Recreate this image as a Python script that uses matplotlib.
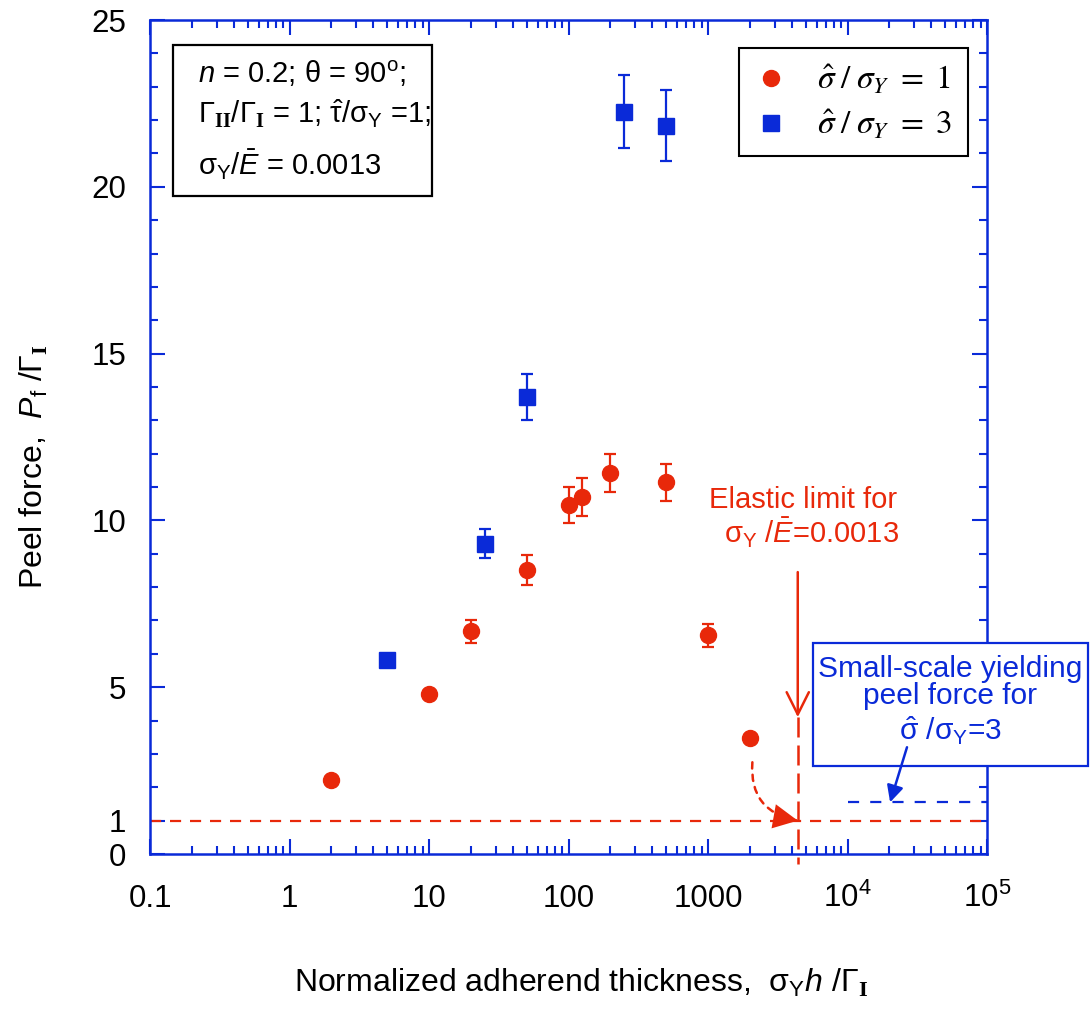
import numpy as np
import matplotlib
matplotlib.use('Agg')
import matplotlib.pyplot as plt
from matplotlib.font_manager import FontProperties
from matplotlib.patches import Rectangle

plt.rcParams['font.family'] = 'Liberation Sans'
plt.rcParams['mathtext.fontset'] = 'custom'
plt.rcParams['mathtext.rm'] = 'Liberation Sans'
plt.rcParams['mathtext.it'] = 'Liberation Sans:italic'
plt.rcParams['mathtext.bf'] = 'Liberation Serif:bold'

# data
red_x = [2, 10, 20, 50, 100, 125, 200, 500, 1000, 2000]
red_y = [2.22, 4.8, 6.67, 8.5, 10.45, 10.7, 11.42, 11.14, 6.55, 3.48]
red_err = [0, 0.12, 0.35, 0.45, 0.54, 0.57, 0.57, 0.56, 0.33, 0]

blue_x = [5, 25, 50, 250, 500]
blue_y = [5.83, 9.3, 13.7, 22.25, 21.83]
blue_err = [0.15, 0.44, 0.7, 1.1, 1.07]

elastic_x = 4400      # elastic limit thickness
ssy_force = 1.55      # small-scale yielding peel force, sigma_hat/sigma_Y = 3
elastic_force = 1.0

xticks = [0.1, 1, 10, 100, 1000, 1e4, 1e5]
xticklabels = ['0.1', '1', '10', '100', '1000', r'$10^4$', r'$10^5$']
yticks = [0, 1, 5, 10, 15, 20, 25]

RED = '#e8280a'
BLUE = '#0a2ad8'

fig = plt.figure(figsize=(10.91, 10.10), dpi=100)
ax = fig.add_axes([150 / 1091, 156 / 1010, 837 / 1091, 834 / 1010])

# error bars then markers (legend shows markers only)
ax.errorbar(red_x, red_y, yerr=red_err, fmt='none', ecolor=RED, elinewidth=1.6,
            capsize=4, capthick=1.6, zorder=4)
ax.errorbar(blue_x, blue_y, yerr=blue_err, fmt='none', ecolor=BLUE, elinewidth=1.6,
            capsize=4, capthick=1.6, zorder=4)
ax.plot(red_x, red_y, 'o', color=RED, ms=11.5, mec=RED, zorder=5,
        label=r'$\hat{\sigma}\;/\;\sigma_Y\ =\ 1$')
ax.plot(blue_x, blue_y, 's', color=BLUE, ms=12, mec=BLUE, zorder=5,
        label=r'$\hat{\sigma}\;/\;\sigma_Y\ =\ 3$')

# reference lines
ax.axhline(elastic_force, color=RED, lw=1.6, ls=(0, (5, 4)), zorder=2)
ax.plot([1e4, 1e5], [ssy_force, ssy_force], color=BLUE, lw=1.6, ls=(0, (5, 5)), zorder=2)
ax.plot([elastic_x, elastic_x], [4.1, -0.3], color=RED, lw=1.8, ls=(0, (8, 3.2)),
        clip_on=False, zorder=3)
ax.annotate('', xy=(elastic_x, 4.1), xytext=(elastic_x, 8.45),
            arrowprops=dict(arrowstyle='->', color=RED, lw=1.8, mutation_scale=40,
                            shrinkA=0, shrinkB=0))
# dotted curved arrow from the last elastic point down to the elastic limit
curve = dict(connectionstyle='arc3,rad=0.45', shrinkA=0, shrinkB=0, color=RED)
ax.annotate('', xy=(elastic_x, elastic_force), xytext=(2080, 2.75),
            arrowprops=dict(arrowstyle='-', lw=1.8, ls=(0, (2.5, 2.5)), **curve))
ax.annotate('', xy=(elastic_x, elastic_force), xytext=(2080, 2.75),
            arrowprops=dict(arrowstyle='-|>,head_length=0.8,head_width=0.4', lw=0,
                            mutation_scale=22, **curve))

# red annotation text
ax.text(0.780, 0.415, 'Elastic limit for', transform=ax.transAxes, color=RED,
        fontsize=21, ha='center', va='baseline')
ax.text(0.790, 0.373, r'$\mathrm{\sigma}_{\rm Y}\ /\bar{E}$=0.0013', transform=ax.transAxes,
        color=RED, fontsize=21, ha='center', va='baseline')

# blue box
ax.add_patch(Rectangle((0.792, 0.1055), 0.3287, 0.1475, transform=ax.transAxes,
                       fc='white', ec=BLUE, lw=1.6, clip_on=False, zorder=6))
ax.text(0.956, 0.2128, 'Small-scale yielding', transform=ax.transAxes, color=BLUE,
        fontsize=21.5, ha='center', va='baseline', zorder=7)
ax.text(0.956, 0.1793, 'peel force for', transform=ax.transAxes, color=BLUE,
        fontsize=21.5, ha='center', va='baseline', zorder=7)
ax.text(0.956, 0.137, r'$\hat{\mathrm{\sigma}}\ /\mathrm{\sigma}_{\rm Y}$=3', transform=ax.transAxes,
        color=BLUE, fontsize=21.5, ha='center', va='baseline', zorder=7)
ax.annotate('', xy=(20200, ssy_force), xytext=(26700, 3.2),
            arrowprops=dict(arrowstyle='-|>', color=BLUE, lw=1.8, mutation_scale=25,
                            shrinkA=0, shrinkB=0), zorder=8)

# parameter box
ax.add_patch(Rectangle((0.0275, 0.789), 0.309, 0.181, transform=ax.transAxes,
                       fc='white', ec='black', lw=1.6, zorder=6))
ax.text(0.0573, 0.9245, r'$n$ = 0.2; θ = 90$^{\rm o}$;', transform=ax.transAxes,
        fontsize=21, va='baseline', zorder=7)
ax.text(0.0573, 0.8765, r'$\Gamma_{\mathbf{II}}/\Gamma_{\mathbf{I}}$ = 1; $\hat{\mathrm{\tau}}/\mathrm{\sigma}_{\rm Y}$ =1;',
        transform=ax.transAxes, fontsize=21, va='baseline', zorder=7)
ax.text(0.0573, 0.814, r'$\mathrm{\sigma}_{\rm Y}/\bar{E}$ = 0.0013', transform=ax.transAxes,
        fontsize=21, va='baseline', zorder=7)

# axes
ax.set_xscale('log')
ax.set_xlim(0.1, 1e5)
ax.set_ylim(0, 25)
ax.set_xticks(xticks)
ax.set_xticklabels(xticklabels)
ax.set_yticks(yticks)
ax.set_yticks(np.arange(0, 26, 1), minor=True)
ax.tick_params(which='both', direction='in', top=True, right=True, color=BLUE, width=1.5)
ax.tick_params(which='major', length=11, labelsize=22.5)
ax.tick_params(which='minor', length=6)
ax.tick_params(axis='x', pad=38.5)
ax.tick_params(axis='y', pad=17)
for t in ax.get_xticklabels():
    t.set_va('baseline')
for s in ax.spines.values():
    s.set_color(BLUE)
    s.set_linewidth(1.8)

ax.set_xlabel(r'Normalized adherend thickness,  $\mathrm{\sigma}_{\rm Y}h\ /\Gamma_{\mathbf{I}}$',
              fontsize=23)
ax.xaxis.set_label_coords(0.515, -0.135)
ax.set_ylabel(r'Peel force,  $P_{\rm f}\ /\Gamma_{\mathbf{I}}$', fontsize=23)
ax.yaxis.set_label_coords(-0.12, 0.464)

leg = ax.legend(loc='upper right', bbox_to_anchor=(0.977, 0.966), borderaxespad=0,
                prop=FontProperties(family='Liberation Serif', size=24, math_fontfamily='stix'),
                fancybox=False, edgecolor='black', framealpha=1, handletextpad=0.9,
                labelspacing=0.35, borderpad=0.45, handlelength=1.0)
leg.get_frame().set_linewidth(1.5)

fig.savefig('out.png', dpi=100)
